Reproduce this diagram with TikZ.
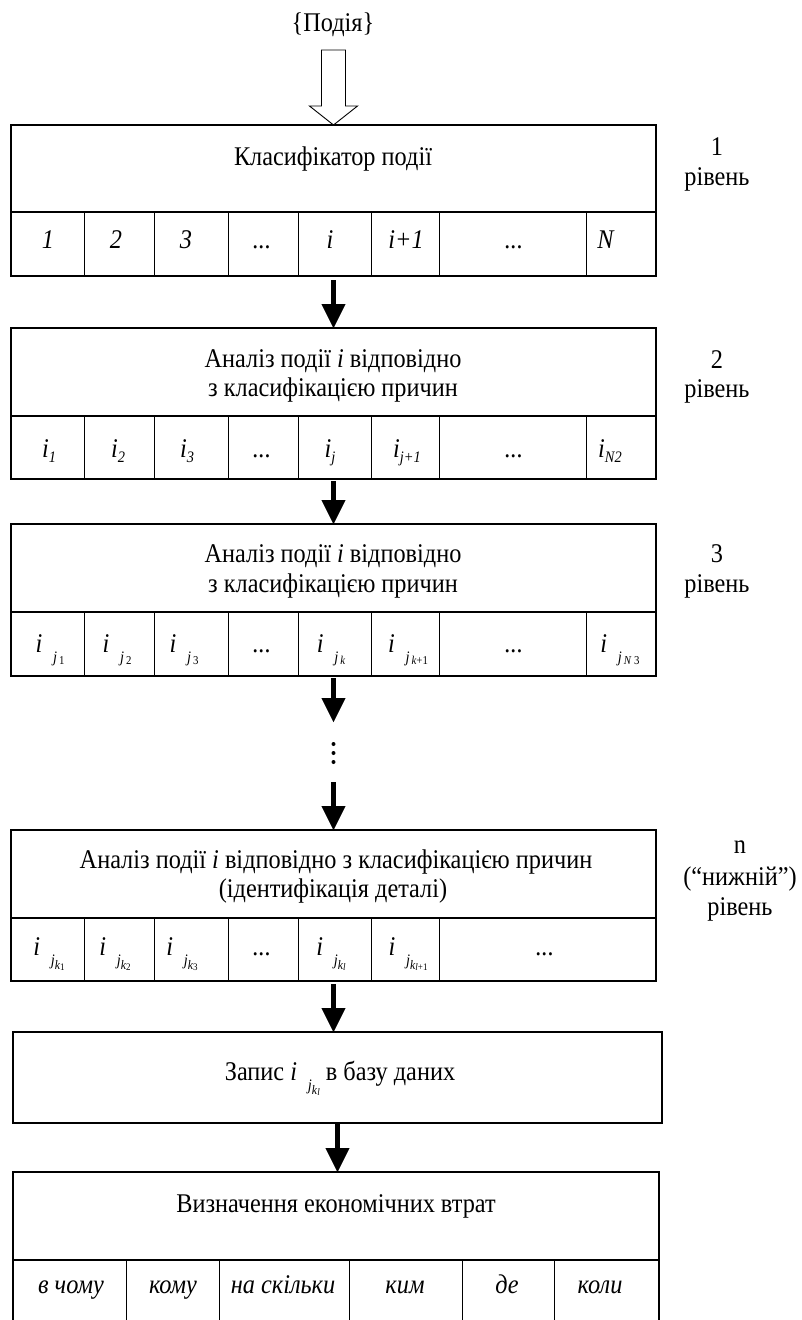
\documentclass[tikz,border=0pt]{standalone}
\usepackage{fontspec}
\setmainfont[FakeStretch=0.9]{Liberation Serif}
\usetikzlibrary{arrows.meta}

% index macros for the cells
\newcommand{\idxone}[1]{\textit{i}\raisebox{-0.22em}{\fontsize{16}{16}\selectfont\textit{#1}}}
\newcommand{\idxtwo}[1]{\textit{i}\hspace{0.4em}\raisebox{-0.4em}{\fontsize{16}{16}\selectfont\textit{j}\hspace{0.12em}\raisebox{-0.1em}{\fontsize{12}{12}\selectfont #1}}}
\newcommand{\idxthree}[1]{\textit{i}\hspace{0.4em}\raisebox{-0.4em}{\fontsize{16}{16}\selectfont\textit{j}\raisebox{-0.2em}{\fontsize{13}{13}\selectfont\textit{k}\raisebox{-0.15em}{\fontsize{10}{10}\selectfont #1}}}}

\begin{document}
\begin{tikzpicture}[x=1pt,y=-1pt]
  \tikzset{BoxStyle/.style   = {draw,
                                line width   = 1.1pt,
                                inner sep    = 0pt,
                                outer sep    = 0pt}}
  \tikzset{CellLine/.style   = {line width   = 0.8pt}}
  \tikzset{TextStyle/.style  = {anchor       = base,
                                inner sep    = 0pt,
                                font         = \fontsize{27}{31}\selectfont}}
  \tikzset{EdgeStyle/.style  = {line width   = 5pt,
                                -{Triangle[width=24pt,length=24pt,line width=0.4pt]}}}
  \tikzset{HollowStyle/.style = {line width  = 0.9pt,
                                fill         = white,
                                line join    = miter}}

\useasboundingbox (0,0) rectangle (801,1320);

% boxes
\node[BoxStyle, minimum width=645pt, minimum height=151pt] (L1) at (333.5,200.5) {};
\node[BoxStyle, minimum width=645pt, minimum height=151pt] (L2) at (333.5,403.5) {};
\node[BoxStyle, minimum width=645pt, minimum height=152pt] (L3) at (333.5,600) {};
\node[BoxStyle, minimum width=645pt, minimum height=151pt] (Ln) at (333.5,905.5) {};
\node[BoxStyle, minimum width=649pt, minimum height=91pt]  (Rec) at (337.5,1077.5) {};
\node[BoxStyle, minimum width=646pt, minimum height=150pt] (Loss) at (336,1247) {};

\draw[line width=1.1pt] (11,212) -- (656,212);
\draw[line width=1.1pt] (11,416) -- (656,416);
\draw[line width=1.1pt] (11,612) -- (656,612);
\draw[line width=1.1pt] (11,918) -- (656,918);
\draw[line width=1.1pt] (13,1260) -- (659,1260);

\foreach \x in {84,154,228,298,371,439,586} {
  \draw[CellLine] (\x,212) -- (\x,276);
  \draw[CellLine] (\x,416) -- (\x,479);
  \draw[CellLine] (\x,612) -- (\x,676);
}
\foreach \x in {84,154,228,298,371,439}
  \draw[CellLine] (\x,918) -- (\x,981);
\foreach \x in {126,219,349,462,554}
  \draw[CellLine] (\x,1260) -- (\x,1322);

% input event
\node[TextStyle] (ev) at (333,31) {\{Подія\}};
\draw[HollowStyle] (L1.north) -- ++(24,-19) -- ++(-12,0) -- ++(0,-56)
  -- ++(-24,0) -- ++(0,56) -- ++(-12,0) -- cycle;

% headers
\node[TextStyle] (L1a) at (333,165) {Класифікатор події};
\node[TextStyle] (L2a) at (333,367) {Аналіз події \textit{i} відповідно};
\node[TextStyle] (L2b) at (333,396) {з класифікацією причин};
\node[TextStyle] (L3a) at (333,562) {Аналіз події \textit{i} відповідно};
\node[TextStyle] (L3b) at (333,592) {з класифікацією причин};
\node[TextStyle] (Lna) at (336,868) {Аналіз події \textit{i} відповідно з класифікацією причин};
\node[TextStyle] (Lnb) at (333,897) {(ідентифікація деталі)};
\node[TextStyle] (Reca) at (340,1080) {Запис \idxthree{\textit{l}} в базу даних};
\node[TextStyle] (Lossa) at (336,1212) {Визначення економічних втрат};

% level labels
\node[TextStyle] (lab1a) at (717,155) {1};
\node[TextStyle] (lab1b) at (717,185) {рівень};
\node[TextStyle] (lab2a) at (717,368) {2};
\node[TextStyle] (lab2b) at (717,397) {рівень};
\node[TextStyle] (lab3a) at (717,562) {3};
\node[TextStyle] (lab3b) at (717,592) {рівень};
\node[TextStyle] (labna) at (740,853) {n};
\node[TextStyle] (labnb) at (740,885) {(“нижній”)};
\node[TextStyle] (labnc) at (740,915) {рівень};

% cells
\foreach \x/\t/\n in {48/\textit{1}/1, 116/\textit{2}/2, 186/\textit{3}/3, 262/\textit{...}/4,
                      330/\textit{i}/5, 406/\textit{i+1}/6, 514/\textit{...}/7, 606/\textit{N}/8}
  \node[TextStyle] (c1-\n) at (\x,248) {\t};
\foreach \x/\t/\n in {49/\idxone{1}/1, 118/\idxone{2}/2, 187/\idxone{3}/3, 262/\textit{...}/4,
                      330/\idxone{j}/5, 407/\idxone{j+1}/6, 514/\textit{...}/7, 610/\idxone{N2}/8}
  \node[TextStyle] (c2-\n) at (\x,457) {\t};
\foreach \x/\t/\n in {50/\idxtwo{1}/1, 117/\idxtwo{2}/2, 184/\idxtwo{3}/3, 262/\textit{...}/4,
                      331/\idxtwo{\textit{k}}/5, 408/\idxtwo{\textit{k}+1}/6, 514/\textit{...}/7,
                      620/\idxtwo{\textit{N} 3}/8}
  \node[TextStyle] (c3-\n) at (\x,652) {\t};
\foreach \x/\t/\n in {49/\idxthree{1}/1, 115/\idxthree{2}/2, 182/\idxthree{3}/3, 262/\textit{...}/4,
                      331/\idxthree{\textit{l}}/5, 408/\idxthree{\textit{l}+1}/6, 545/\textit{...}/7}
  \node[TextStyle] (cn-\n) at (\x,955) {\t};
\foreach \x/\t/\n in {71/в чому/1, 173/кому/2, 283/на скільки/3, 405/ким/4, 507/де/5, 600/коли/6}
  \node[TextStyle] (ce-\n) at (\x,1293) {\textit{\t}};

% connectors
\coordinate (dA) at (333.5,722);
\coordinate (dB) at (333.5,782);
\draw[EdgeStyle, shorten <=4pt] (L1.south) -- (L2.north);
\draw[EdgeStyle, shorten <=2pt] (L2.south) -- (L3.north);
\draw[EdgeStyle, shorten <=2pt] (L3.south) -- (dA);
\fill (333.5,744) circle (2pt);
\fill (333.5,753) circle (2pt);
\fill (333.5,762) circle (2pt);
\draw[EdgeStyle] (dB) -- (Ln.north);
\draw[EdgeStyle, shorten <=3pt] (Ln.south) -- (Ln.south |- Rec.north);
\draw[EdgeStyle] (Rec.south) -- (Rec.south |- Loss.north);
\end{tikzpicture}
\end{document}
